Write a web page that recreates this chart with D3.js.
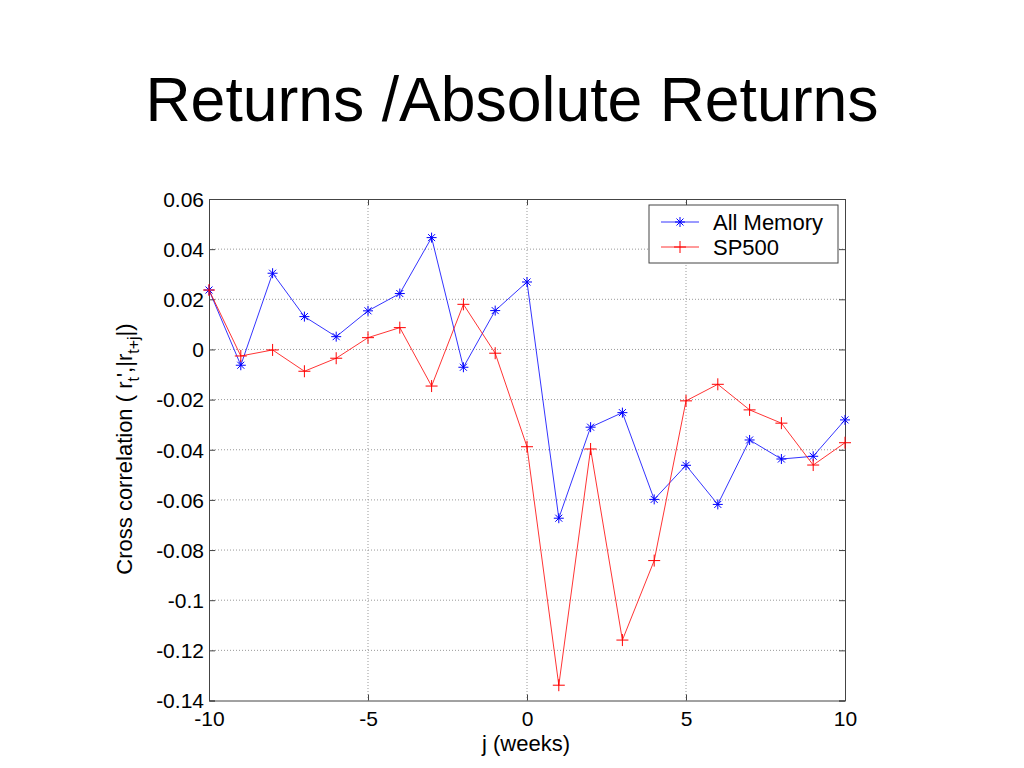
<!DOCTYPE html>
<html>
<head>
<meta charset="utf-8">
<script src="https://cdn.jsdelivr.net/npm/d3@7"></script>
<style>
  body { margin: 0; background: #fff; }
  svg { display: block; font-family: "Liberation Sans", Arial, Helvetica, sans-serif; }
</style>
</head>
<body>
<svg id="chart" width="1024" height="768"></svg>
<script>
const lags = [-10,-9,-8,-7,-6,-5,-4,-3,-2,-1,0,1,2,3,4,5,6,7,8,9,10];
const allMemory = [0.0237,-0.0063,0.0304,0.0131,0.0051,0.0154,0.0223,0.0446,-0.0071,0.0155,0.0269,
                   -0.0673,-0.0310,-0.0252,-0.0598,-0.0462,-0.0618,-0.0361,-0.0437,-0.0426,-0.0281];
const sp500 = [0.0237,-0.0026,-0.0002,-0.0087,-0.0035,0.0047,0.0087,-0.0146,0.0180,-0.0015,-0.0388,
               -0.1339,-0.0397,-0.1159,-0.0842,-0.0205,-0.0139,-0.0241,-0.0294,-0.0461,-0.0372];
const xTicks = [-10,-5,0,5,10];
const xTickLabels = ["-10","-5","0","5","10"];
const yTicks = [0.06,0.04,0.02,0,-0.02,-0.04,-0.06,-0.08,-0.1,-0.12,-0.14];
const yTickLabels = ["0.06","0.04","0.02","0","-0.02","-0.04","-0.06","-0.08","-0.1","-0.12","-0.14"];
const seriesNames = ["All Memory","SP500"];
const seriesColors = ["#0000ff","#ff0000"];

const svg = d3.select("#chart");
const L = 209, R = 845, T = 199, B = 700.5;
const x = d3.scaleLinear().domain([-10,10]).range([L,R]);
const y = d3.scaleLinear().domain([-0.14,0.06]).range([B,T]);

// title
svg.append("text").attr("x",512).attr("y",121).attr("text-anchor","middle")
  .attr("font-size",62.5).attr("fill","#000").text("Returns /Absolute Returns");

// grid
const grid = svg.append("g").attr("stroke","#999").attr("stroke-width",1).attr("stroke-dasharray","1,2");
grid.selectAll("line.gx").data(xTicks.slice(1,-1)).enter().append("line")
  .attr("x1",d=>x(d)).attr("x2",d=>x(d)).attr("y1",T).attr("y2",B);
grid.selectAll("line.gy").data(yTicks.slice(1,-1)).enter().append("line")
  .attr("x1",L).attr("x2",R).attr("y1",d=>y(d)).attr("y2",d=>y(d));

// axes (inside ticks) bottom/left with labels, top/right mirrored
const tickLen = 6;
const axB = svg.append("g").attr("transform",`translate(0,${B})`)
  .call(d3.axisBottom(x).tickValues(xTicks).tickSize(-tickLen).tickPadding(10)
    .tickFormat((d,i)=>xTickLabels[i]));
const axT = svg.append("g").attr("transform",`translate(0,${T})`)
  .call(d3.axisTop(x).tickValues(xTicks).tickSize(-tickLen).tickFormat(""));
const axL = svg.append("g").attr("transform",`translate(${L},0)`)
  .call(d3.axisLeft(y).tickValues(yTicks).tickSize(-tickLen).tickPadding(5)
    .tickFormat((d,i)=>yTickLabels[i]));
const axR = svg.append("g").attr("transform",`translate(${R},0)`)
  .call(d3.axisRight(y).tickValues(yTicks).tickSize(-tickLen).tickFormat(""));
[axB,axT,axL,axR].forEach(a=>{
  a.selectAll("path").attr("stroke","#444");
  a.selectAll("line").attr("stroke","#444");
  a.selectAll("text").attr("font-size",21).attr("fill","#000")
    .attr("font-family","'Liberation Sans', Arial, sans-serif");
});
axB.selectAll("text").attr("dy","0.72em");
axL.selectAll("text").attr("dy","0.35em");

// axis labels
svg.append("text").attr("x",526).attr("y",751).attr("text-anchor","middle")
  .attr("font-size",22).text("j (weeks)");
const yl = svg.append("text").attr("transform","translate(132,449) rotate(-90)")
  .attr("text-anchor","middle").attr("font-size",22);
yl.append("tspan").text("Cross correlation ( r");
yl.append("tspan").attr("font-size",16).attr("dy",7).text("t");
yl.append("tspan").attr("dy",-7).text("',|r");
yl.append("tspan").attr("font-size",16).attr("dy",7).text("t+j");
yl.append("tspan").attr("dy",-7).text("|)");

// series
const line = d3.line().x((d,i)=>x(lags[i])).y(d=>y(d));
const data = [allMemory, sp500];
function starPath(cx,cy,s){
  return `M${cx-s},${cy}L${cx+s},${cy}M${cx},${cy-s}L${cx},${cy+s}` +
         `M${cx-s*0.7},${cy-s*0.7}L${cx+s*0.7},${cy+s*0.7}M${cx-s*0.7},${cy+s*0.7}L${cx+s*0.7},${cy-s*0.7}`;
}
function plusPath(cx,cy,s){
  return `M${cx-s},${cy}L${cx+s},${cy}M${cx},${cy-s}L${cx},${cy+s}`;
}
data.forEach((vals,k)=>{
  const g = svg.append("g");
  g.append("path").attr("d",line(vals)).attr("fill","none")
    .attr("stroke",seriesColors[k]).attr("stroke-width",0.8);
  g.selectAll("path.m").data(vals).enter().append("path")
    .attr("d",(d,i)=> k===0 ? starPath(x(lags[i]),y(d),5) : plusPath(x(lags[i]),y(d),6))
    .attr("stroke",seriesColors[k]).attr("stroke-width",1).attr("fill","none");
});

// legend
const lg = svg.append("g");
lg.append("rect").attr("x",649).attr("y",205).attr("width",189).attr("height",58)
  .attr("fill","#fff").attr("stroke","#444").attr("stroke-width",1);
seriesNames.forEach((n,k)=>{
  const yy = 222 + k*25;
  lg.append("line").attr("x1",661).attr("x2",699).attr("y1",yy).attr("y2",yy)
    .attr("stroke",seriesColors[k]).attr("stroke-width",0.8);
  lg.append("path").attr("d", k===0 ? starPath(680,yy,5) : plusPath(680,yy,6))
    .attr("stroke",seriesColors[k]).attr("fill","none");
  lg.append("text").attr("x",713).attr("y",yy).attr("dy","0.35em")
    .attr("font-size",22).text(n);
});
</script>
</body>
</html>
